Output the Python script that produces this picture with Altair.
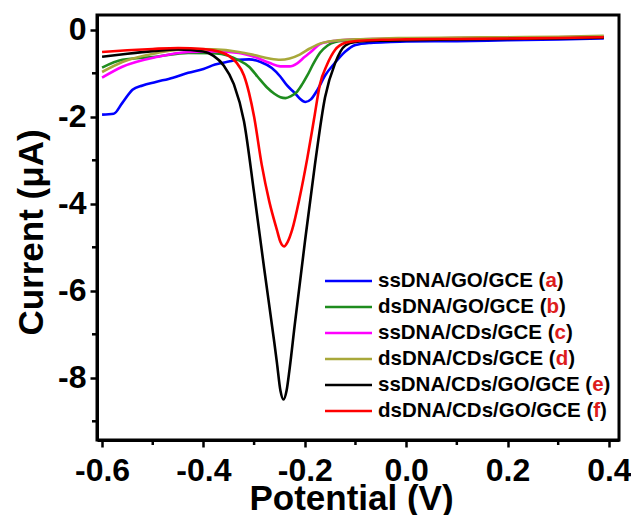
import altair as alt
import pandas as pd

# ---------------- data ----------------
series_names = ["ssDNA/GO/GCE", "dsDNA/GO/GCE", "ssDNA/CDs/GCE",
                "dsDNA/CDs/GCE", "ssDNA/CDs/GO/GCE", "dsDNA/CDs/GO/GCE"]
series_letters = ["a", "b", "c", "d", "e", "f"]
series_colors = ["#0000ff", "#1e8c1e", "#ff00ff", "#a8a83a", "#000000", "#ff0000"]

a_x = [-0.6, -0.577, -0.56, -0.54, -0.52, -0.494, -0.46, -0.43, -0.4, -0.377, -0.35, -0.332,
       -0.31, -0.287, -0.265, -0.248, -0.235, -0.22, -0.21, -0.199, -0.188, -0.175, -0.16,
       -0.142, -0.12, -0.1, -0.07, -0.03, 0.0, 0.1, 0.2, 0.3, 0.39]
a_y = [-1.95, -1.93, -1.68, -1.38, -1.28, -1.2, -1.1, -0.99, -0.9, -0.8, -0.73, -0.69,
       -0.68, -0.74, -0.88, -1.08, -1.28, -1.45, -1.58, -1.66, -1.6, -1.38, -1.05,
       -0.78, -0.5, -0.35, -0.3, -0.28, -0.27, -0.26, -0.24, -0.22, -0.2]

b_x = [-0.6, -0.56, -0.494, -0.43, -0.38, -0.35, -0.332, -0.31, -0.293, -0.275, -0.26,
       -0.248, -0.238, -0.228, -0.215, -0.205, -0.195, -0.183, -0.17, -0.155, -0.14, -0.12,
       -0.1, -0.05, 0.0, 0.1, 0.2, 0.3, 0.39]
b_y = [-0.87, -0.69, -0.62, -0.53, -0.54, -0.6, -0.69, -0.85, -1.08, -1.32, -1.47,
       -1.55, -1.57, -1.53, -1.42, -1.25, -1.05, -0.78, -0.53, -0.36, -0.28, -0.25,
       -0.24, -0.22, -0.21, -0.2, -0.19, -0.18, -0.16]

c_x = [-0.6, -0.56, -0.49, -0.43, -0.38, -0.33, -0.3, -0.27, -0.248, -0.23, -0.215, -0.2,
       -0.19, -0.17, -0.156, -0.13, -0.1, -0.05, 0.0, 0.1, 0.2, 0.3, 0.39]
c_y = [-1.1, -0.85, -0.62, -0.51, -0.5, -0.53, -0.62, -0.76, -0.84, -0.84, -0.77, -0.62,
       -0.53, -0.33, -0.28, -0.24, -0.22, -0.21, -0.2, -0.19, -0.18, -0.17, -0.15]

d_x = [-0.6, -0.56, -0.49, -0.43, -0.38, -0.33, -0.3, -0.27, -0.248, -0.23, -0.21, -0.19,
       -0.175, -0.14, -0.1, -0.05, 0.0, 0.1, 0.2, 0.3, 0.39]
d_y = [-0.97, -0.74, -0.53, -0.44, -0.45, -0.51, -0.58, -0.66, -0.69, -0.66, -0.57, -0.43,
       -0.34, -0.25, -0.22, -0.2, -0.19, -0.18, -0.17, -0.16, -0.14]

e_x = [-0.6, -0.55, -0.5, -0.45, -0.4, -0.38, -0.36, -0.34, -0.32, -0.3, -0.28, -0.26,
       -0.255, -0.248, -0.242, -0.236, -0.23, -0.22, -0.2, -0.18, -0.16, -0.14, -0.12, -0.1,
       -0.05, 0.0, 0.1, 0.2, 0.3, 0.39]
e_y = [-0.62, -0.55, -0.49, -0.45, -0.5, -0.6, -0.82, -1.25, -2.1, -3.75, -5.5, -7.2,
       -7.65, -8.3, -8.5, -8.3, -7.8, -6.8, -4.9, -3.1, -1.55, -0.76, -0.36, -0.28,
       -0.25, -0.24, -0.22, -0.21, -0.2, -0.18]

f_x = [-0.6, -0.55, -0.5, -0.45, -0.4, -0.37, -0.35, -0.335, -0.32, -0.31, -0.3, -0.285,
       -0.27, -0.255, -0.248, -0.241, -0.234, -0.225, -0.21, -0.195, -0.182, -0.17, -0.156,
       -0.14, -0.12, -0.1, -0.05, 0.0, 0.1, 0.2, 0.3, 0.39]
f_y = [-0.51, -0.47, -0.44, -0.42, -0.44, -0.5, -0.6, -0.75, -1.05, -1.45, -2.0, -3.1,
       -3.95, -4.6, -4.88, -4.98, -4.88, -4.6, -3.85, -2.95, -2.07, -1.25, -0.8,
       -0.46, -0.3, -0.26, -0.23, -0.22, -0.21, -0.2, -0.19, -0.17]

x_ticks = [-0.6, -0.4, -0.2, 0.0, 0.2, 0.4]
x_minor = [-0.5, -0.3, -0.1, 0.1, 0.3]
y_ticks = [0, -2, -4, -6, -8]
y_minor = [-1, -3, -5, -7, -9]

# ---------------- build tables ----------------
xs = [a_x, b_x, c_x, d_x, e_x, f_x]
ys = [a_y, b_y, c_y, d_y, e_y, f_y]
rows = []
for i, name in enumerate(series_names):
    for j, (xv, yv) in enumerate(zip(xs[i], ys[i])):
        rows.append({"series": name, "order": j, "x": xv, "y": yv})
df = pd.DataFrame(rows)

W, H = 522, 425
FONT = "Liberation Sans"
LFS = 20.5  # legend font size

# Arial/Liberation Sans Bold advance widths (em)
adv = {"s": .556, "d": .611, "D": .722, "N": .722, "A": .722, "/": .278, "G": .778,
       "O": .778, "C": .722, "E": .667, " ": .278, "(": .333, ")": .333, "a": .556,
       "b": .611, "c": .556, "e": .556, "f": .333}


def tw(s):
    return sum(adv.get(ch, .6) for ch in s) * LFS


color_scale = alt.Scale(domain=series_names, range=series_colors)
xscale = alt.Scale(domain=[-0.61, 0.42], nice=False, zero=False)
yscale = alt.Scale(domain=[-9.43, 0.34], nice=False, zero=False)

lab_x = "datum.value < 0 ? '-' + format(-datum.value, '.1f') : format(datum.value, '.1f')"
lab_y = "datum.value < 0 ? '-' + format(-datum.value, 'd') : format(datum.value, 'd')"

lines = alt.Chart(df).mark_line(strokeWidth=2.6, interpolate="monotone").encode(
    x=alt.X("x:Q", scale=xscale,
            axis=alt.Axis(values=x_ticks, labelExpr=lab_x, title="Potential (V)",
                          titleX=254, titleY=58, titleBaseline="middle",
                          labelPadding=8)),
    y=alt.Y("y:Q", scale=yscale,
            axis=alt.Axis(values=y_ticks, labelExpr=lab_y, title="Current (\u03bcA)",
                          titleX=-66, titleY=217, titleBaseline="middle", titleAngle=270,
                          labelPadding=4)),
    color=alt.Color("series:N", scale=color_scale, legend=None),
    order=alt.Order("order:Q"),
)

mx = alt.Chart(pd.DataFrame({"x": x_minor})).mark_rule(color="black", strokeWidth=2.5).encode(
    x=alt.X("x:Q"),
    y=alt.value(H), y2=alt.value(H + 5),
)
my = alt.Chart(pd.DataFrame({"y": y_minor})).mark_rule(color="black", strokeWidth=2.5).encode(
    y=alt.Y("y:Q"),
    x=alt.value(0), x2=alt.value(-5),
)

layers = [lines, mx, my]
txt_kw = dict(font=FONT, fontSize=LFS, fontWeight="bold", align="left", baseline="middle")
leg_x0, leg_x1, leg_tx = 228, 275, 281
for i, name in enumerate(series_names):
    yy = 266 + 26 * i
    prefix = name + " ("
    lx = leg_tx + tw(prefix)
    rx = lx + tw(series_letters[i])
    one = pd.DataFrame({"series": [name], "t1": [prefix], "t2": [series_letters[i]], "t3": [")"]})
    base = alt.Chart(one)
    layers.append(base.mark_rule(strokeWidth=2.6, color=series_colors[i]).encode(
        x=alt.value(leg_x0), x2=alt.value(leg_x1), y=alt.value(yy)))
    layers.append(base.mark_text(color="black", **txt_kw).encode(
        x=alt.value(leg_tx), y=alt.value(yy), text="t1:N"))
    layers.append(base.mark_text(color="#dd1c1c", **txt_kw).encode(
        x=alt.value(lx), y=alt.value(yy), text="t2:N"))
    layers.append(base.mark_text(color="black", **txt_kw).encode(
        x=alt.value(rx), y=alt.value(yy), text="t3:N"))

chart = alt.layer(*layers).properties(
    width=W, height=H,
    autosize=alt.AutoSizeParams(type="none"),
    padding={"left": 89, "top": 7, "right": 12, "bottom": 75},
).configure_view(
    stroke="black", strokeWidth=3
).configure_axis(
    domainColor="black", domainWidth=3, tickColor="black", tickWidth=2.5, tickSize=7,
    grid=False, labelFont=FONT, labelFontSize=32, labelFontWeight="bold", labelColor="black",
    titleFont=FONT, titleFontSize=35, titleFontWeight="bold", titleColor="black",
    labelFlush=False, labelOverlap=False,
)

chart.save("out.html", embed_options={"renderer": "svg", "actions": False})
